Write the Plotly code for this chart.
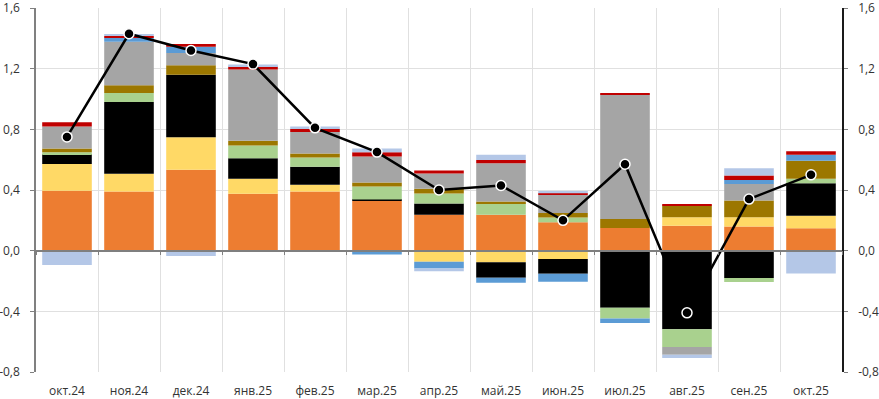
import plotly.graph_objects as go

cats = ["окт.24", "ноя.24", "дек.24", "янв.25", "фев.25", "мар.25", "апр.25",
        "май.25", "июн.25", "июл.25", "авг.25", "сен.25", "окт.25"]

s_orange = [0.395, 0.39, 0.533, 0.375, 0.39, 0.328, 0.236, 0.236, 0.187, 0.149, 0.165, 0.159, 0.147]
s_yellow = [0.176, 0.117, 0.214, 0.099, 0.044, 0.0, -0.073, -0.077, -0.055, 0.0, 0.055, 0.061, 0.084]
s_black = [0.066, 0.473, 0.413, 0.136, 0.119, 0.01, 0.075, -0.101, -0.097, -0.377, -0.518, -0.18, 0.214]
s_green = [0.012, 0.06, 0.0, 0.084, 0.062, 0.085, 0.066, 0.077, 0.031, -0.07, -0.117, -0.026, 0.029]
s_gold = [0.025, 0.05, 0.062, 0.031, 0.026, 0.027, 0.031, 0.011, 0.031, 0.06, 0.077, 0.11, 0.119]
s_gray = [0.145, 0.287, 0.081, 0.47, 0.141, 0.171, 0.101, 0.253, 0.119, 0.82, -0.051, 0.11, 0.0]
s_blue = [0.0, 0.026, 0.042, 0.0, 0.0, -0.025, -0.044, -0.033, -0.053, -0.03, 0.0, 0.026, 0.04]
s_red = [0.027, 0.013, 0.017, 0.02, 0.02, 0.028, 0.02, 0.02, 0.01, 0.01, 0.009, 0.029, 0.022]
s_lightblue = [-0.095, 0.013, -0.035, 0.013, 0.016, 0.024, -0.018, 0.035, 0.016, 0.0, -0.022, 0.048, -0.15]

total = [0.75, 1.43, 1.32, 1.23, 0.81, 0.65, 0.40, 0.43, 0.20, 0.57, -0.41, 0.34, 0.50]

y_ticks = [-0.8, -0.4, 0.0, 0.4, 0.8, 1.2, 1.6]
y_ticktext = ["-0,8", "-0,4", "0,0", "0,4", "0,8", "1,2", "1,6"]

series = [
    (s_orange, "#ED7D31"),
    (s_yellow, "#FFD966"),
    (s_black, "#000000"),
    (s_green, "#A9D18E"),
    (s_gold, "#9C7700"),
    (s_gray, "#A5A5A5"),
    (s_blue, "#5B9BD5"),
    (s_red, "#C00000"),
    (s_lightblue, "#B4C7E7"),
]

fig = go.Figure()
for vals, col in series:
    fig.add_trace(go.Bar(x=cats, y=vals, marker=dict(color=col, line=dict(width=0)),
                         showlegend=False, hoverinfo="skip"))

fig.add_trace(go.Scatter(x=cats, y=total, mode="lines+markers", xaxis="x2", yaxis="y2",
                         line=dict(color="#000000", width=2.5),
                         marker=dict(color="#000000", size=10, line=dict(color="#FFFFFF", width=1.5)),
                         showlegend=False, hoverinfo="skip"))

font = dict(family="Open Sans", size=12, color="#333333")
yax = dict(range=[-0.8, 1.6], tickvals=y_ticks, ticktext=y_ticktext, showgrid=True,
           gridcolor="#E0E0E0", gridwidth=1, zeroline=False, showline=True,
           linecolor="#808080", linewidth=1.5, ticks="outside", ticklen=4, tickcolor="#808080",
           tickfont=font, fixedrange=True, ticklabeloverflow="allow", automargin=False,
           ticklabelstandoff=8)

fig.update_layout(
    width=879, height=399,
    margin=dict(l=36, r=37, t=8, b=27, autoexpand=False),
    paper_bgcolor="white", plot_bgcolor="white",
    barmode="relative", bargap=0.2,
    xaxis=dict(type="category", categoryorder="array", categoryarray=cats,
               range=[-0.5, 12.5], tickson="boundaries", showgrid=True, gridcolor="#E0E0E0",
               ticks="", showline=False, tickfont=font, zeroline=False, automargin=False,
               ticklabelstandoff=10),
    xaxis2=dict(type="category", categoryorder="array", categoryarray=cats,
                range=[-0.5, 12.5], overlaying="x", anchor="free", position=1/3,
                tickson="boundaries", ticks="outside", ticklen=4, tickcolor="#7F7F7F",
                showline=True, linecolor="#7F7F7F", linewidth=1.5, automargin=False,
                showticklabels=False, showgrid=False, zeroline=False),
    yaxis=yax,
    yaxis2=dict(yax, overlaying="y", side="right", anchor="x", showgrid=False,
                linecolor="#1A1A1A"),
)

fig.write_html("out.html", config={"displayModeBar": False},
               post_script="document.body.style.margin='0px';document.body.style.overflow='hidden';")
